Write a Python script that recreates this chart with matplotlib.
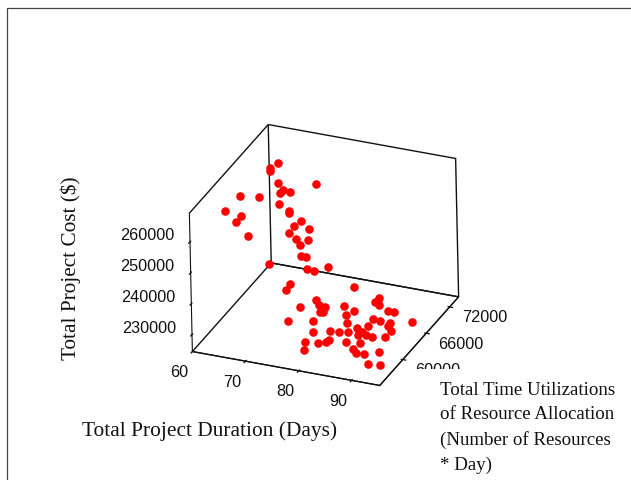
import matplotlib
matplotlib.use("Agg")
import matplotlib.pyplot as plt
from matplotlib.patches import Rectangle
from mpl_toolkits.mplot3d import proj3d

plt.rcParams['font.family'] = ['Liberation Sans']

# duracao (dias), utilizacao de recursos, custo ($)
duration = [63.8, 63.2, 63.7, 66.7, 73.1, 68.6, 69.9, 68.5, 69.9, 72.6, 72.9,
            62.3, 65.6, 62.2, 65.6, 65.5, 69.5,
            70.5, 72.8, 70.1, 70.2, 74.2, 72.3, 73.7, 75.4, 76.5, 78.3, 79.8, 81.5, 60.0,
            70.0, 70.1, 80.8, 74.9, 76.5, 77.6, 79.0, 78.9, 79.4, 81.8, 83.5, 84.2, 86.4, 86.3, 87.4, 89.8, 90.9,
            73.5, 77.6, 79.2, 83.5, 93.9, 87.2, 88.5, 90.5, 90.6, 91.7, 91.6, 87.3, 81.9, 83.5, 84.9, 85.8, 87.1,
            87.1, 88.4, 89.5, 86.0, 88.5, 83.0, 82.7, 81.7, 79.3,
            79.6, 87.3, 88.4, 89.8, 91.9, 91.9, 94.0]
utilization = [71479, 70306, 69641, 67567, 68678, 66326, 66320, 65692, 63447, 62431, 62040,
               63744, 64245, 60168, 59707, 58542, 56091,
               68098, 66934, 66952, 65443, 64732, 64421, 63426, 61311, 61254, 59060, 58788, 60076, 73782,
               65665, 64384, 67332, 61510, 63584, 62691, 62463, 61250, 61366, 63321, 61641, 62697, 66134, 65140, 64764, 63934, 63878,
               60204, 61113, 58961, 61865, 64361, 63500, 63483, 63397, 62812, 61905, 60540, 62080, 59769, 59891, 60199, 61231, 60683,
               59840, 60137, 60080, 58172, 58424, 57801, 57454, 56938, 56697,
               56201, 58208, 57547, 57520, 58589, 55716, 55945]
cost = [262000] * 17 + [250000] * 12 + [225000] + [233000] * 17 + [230000] * 26 + [228000] * 7

x_ticks = [60, 70, 80, 90]
y_ticks = [60000, 66000, 72000]
z_ticks = [230000, 240000, 250000, 260000]

x_min, x_max = 60, 95.3
y_min, y_max = 54100, 74300
z_min, z_max = 224500, 269300

fig = plt.figure(figsize=(6.31, 4.81), dpi=100)
ax = fig.add_axes([77 / 631, -22 / 481, 481 / 631, 1], projection='3d', proj_type='ortho')
ax.patch.set_alpha(0)
ax.view_init(elev=27.9, azim=-66.5, roll=1.24)
ax.set_box_aspect((204, 203, 157), zoom=0.66)

ax.scatter(duration, utilization, cost, c='#ff0000', s=38, depthshade=False, linewidths=0, alpha=1)

ax.set_xlim(x_min, x_max, view_margin=0)
ax.set_ylim(y_min, y_max, view_margin=0)
ax.set_zlim(z_min, z_max, view_margin=0)
ax.set_xticks(x_ticks)
ax.set_yticks(y_ticks)
ax.set_zticks(z_ticks)
ax.set_xticklabels([])
ax.set_yticklabels([])
ax.set_zticklabels([])
ax.grid(False)

for axis in (ax.xaxis, ax.yaxis, ax.zaxis):
    axis.pane.set_alpha(None)
    axis.pane.set_facecolor((1, 1, 1, 0))
    axis.pane.set_edgecolor('#111111')
    axis.pane.set_linewidth(1.0)
    axis.line.set_color('#111111')
    axis.set_tick_params(colors='#111111')
    axis._axinfo['tick']['linewidth'] = {True: 0.9, False: 0.9}
ax.zaxis.set_ticks_position('lower')


# rotulos dos ticks: posicao vem da projecao 3d, mais um deslocamento em pixels
def tick_label(texto, px, py, pz, dx, dy):
    x2, y2, _ = proj3d.proj_transform(px, py, pz, ax.get_proj())
    ax.annotate(texto, (x2, y2), xytext=(dx, dy), textcoords='offset pixels',
                fontsize=11.7, ha='center', va='center', color='#111111')


for v in x_ticks:
    tick_label(str(v), v, y_min, z_min, -13.5, -20)
for v in y_ticks:
    tick_label(str(v), x_max, v, z_min, 35, -10)
for v in z_ticks:
    tick_label(str(v), x_min, y_min, v, -43, 7.5)

# caixa da figura original
fig.add_artist(Rectangle((7 / 631, -0.1), 1, 1.1 - 9 / 481, transform=fig.transFigure,
                         fill=False, edgecolor='#444444', linewidth=0.9))
# fundo branco da legenda, corta o rotulo 60000
fig.add_artist(Rectangle((412 / 631, 0), 219 / 631, (481 - 370) / 481, transform=fig.transFigure,
                         facecolor='white', edgecolor='none', zorder=5))

fig.text(209.5 / 631, 1 - 431 / 481, 'Total Project Duration (Days)', family='Liberation Serif',
         fontsize=15.4, ha='center', va='center', color='#111111')
fig.text(71 / 631, 1 - 268 / 481, 'Total Project Cost ($)', family='Liberation Serif',
         fontsize=15.35, rotation=90, ha='center', va='center', color='#111111')
fig.text(440 / 631, 1 - 428 / 481,
         'Total Time Utilizations\nof Resource Allocation\n(Number of Resources\n* Day)',
         family='Liberation Serif', fontsize=13.6, linespacing=1.57, ha='left', va='center',
         color='#111111', zorder=10)

fig.savefig('out.png', dpi=100)
